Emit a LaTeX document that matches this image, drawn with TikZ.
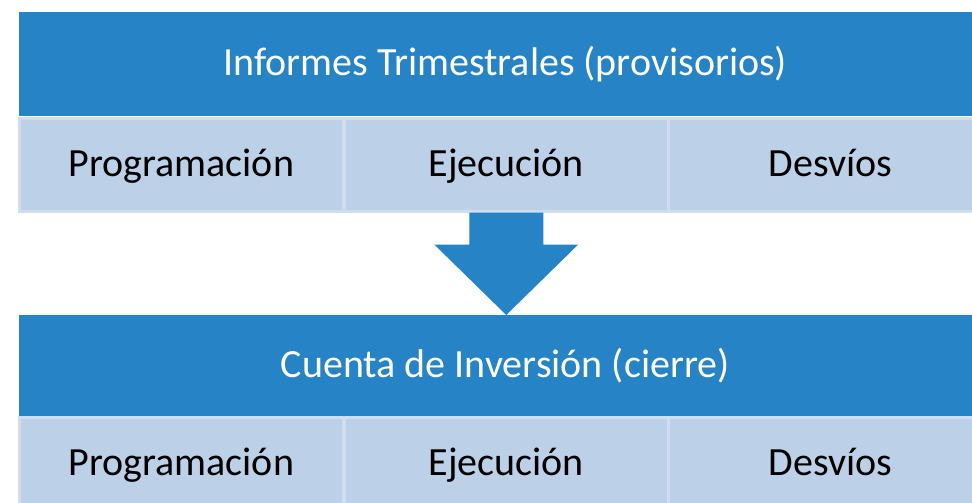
\documentclass[tikz,border=0pt]{standalone}
\usepackage{fontspec}
\setmainfont{Carlito}
\definecolor{hblue}{RGB}{38,131,198}
\definecolor{cellblue}{RGB}{188,208,232}
\definecolor{celledge}{RGB}{208,221,238}
\begin{document}
\begin{tikzpicture}[x=1pt,y=1pt,
  header/.style={fill=hblue, draw=none, text=white, font=\fontsize{40}{48}\selectfont,
    text height=30pt, text depth=7pt,
    minimum width=972pt, minimum height=104pt, anchor=north west, inner sep=0pt},
  cellbox/.style={fill=cellblue, draw=celledge, line width=2.5pt, text=black,
    font=\fontsize{40}{48}\selectfont, text height=30pt, text depth=7pt,
    minimum width=324pt, minimum height=93pt,
    anchor=north west, inner sep=0pt},
  blockarrow/.style={fill=hblue, draw=none}]
\useasboundingbox (0,0) rectangle (972,-503);
\clip (0,0) rectangle (972,-503);
% top block
\node[header] (h1) at (19,-12) {Informes Trimestrales (provisorios)};
\node[cellbox] (a1) at (18,-117) {Programación};
\node[cellbox] (b1) at (343,-117) {Ejecución};
\node[cellbox] (c1) at (667,-117) {Desvíos};
% bottom block
\node[header, minimum height=101pt] (h2) at (19,-315) {Cuenta de Inversión (cierre)};
\node[cellbox] (a2) at (18,-416) {Programación};
\node[cellbox] (b2) at (343,-416) {Ejecución};
\node[cellbox] (c2) at (667,-416) {Desvíos};
% block arrow from top row to bottom header
\coordinate (tip) at (b1.south |- h2.north);
\fill[blockarrow] ([xshift=-37pt]b1.south) -- ([xshift=-37pt,yshift=-32pt]b1.south)
  -- ([xshift=-72pt,yshift=-32pt]b1.south) -- (tip)
  -- ([xshift=72pt,yshift=-32pt]b1.south) -- ([xshift=37pt,yshift=-32pt]b1.south)
  -- ([xshift=37pt]b1.south) -- cycle;
\end{tikzpicture}
\end{document}
